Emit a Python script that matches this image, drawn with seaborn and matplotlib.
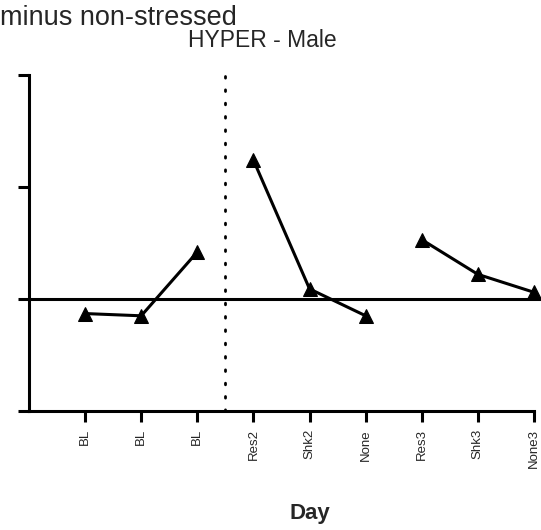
import pandas as pd
import matplotlib.pyplot as plt
import seaborn as sns

labels = ["BL", "BL", "BL", "Res2", "Shk2", "None", "Res3", "Shk3", "None3"]
positions = [1, 2, 3, 4, 5, 6, 7, 8, 9]
values = [-0.13, -0.15, 0.42, 1.24, 0.09, -0.15, 0.53, 0.22, 0.06]
segments = ["a", "a", "a", "b", "b", "b", "c", "c", "c"]

df = pd.DataFrame({"pos": positions, "val": values, "seg": segments})

sns.set_style("ticks")
plt.rcParams["font.family"] = ["Liberation Sans", "DejaVu Sans"]

fig = plt.figure(figsize=(5.41, 5.30), dpi=100)
ax = fig.add_axes([29 / 541, 1 - 411 / 530, (534 - 29) / 541, (411 - 75) / 530])

# three separate runs of the same day series
for s, part in df.groupby("seg"):
    sns.lineplot(data=part, x="pos", y="val", ax=ax, color="black", lw=2.2,
                 marker="^", markersize=10, markeredgecolor="black",
                 estimator=None, sort=False, clip_on=False)

ax.axhline(0, xmin=0, xmax=(541 - 29) / (534 - 29), color="black", lw=2.2, clip_on=False)
ax.axvline(3.5, color="black", lw=2, linestyle=(0, (0.6, 4.2)), dash_capstyle="round")

ax.set_xlim(0, 9)
ax.set_ylim(-1, 2)
ax.set_xticks(positions)
ax.set_xticklabels(labels, rotation=90, fontsize=9.5)
ax.set_yticks([-1, 0, 1, 2])
ax.set_yticklabels([])
ax.tick_params(axis="both", direction="out", length=8, width=2.2, color="black")
ax.tick_params(axis="x", pad=5)
for side in ["top", "right"]:
    ax.spines[side].set_visible(False)
for side in ["left", "bottom"]:
    ax.spines[side].set_linewidth(2.2)
    ax.spines[side].set_color("black")
ax.set_xlabel("")
ax.set_ylabel("")

fig.text(0, 1 - 25 / 530, "minus non-stressed", fontsize=19.5, ha="left", va="baseline")
fig.text(262 / 541, 1 - 47 / 530, "HYPER - Male", fontsize=16.5, ha="center", va="baseline")
fig.text(310 / 541, 1 - 519 / 530, "Day", fontsize=16, fontweight="bold", ha="center", va="baseline")

fig.savefig("out.png", dpi=100)
